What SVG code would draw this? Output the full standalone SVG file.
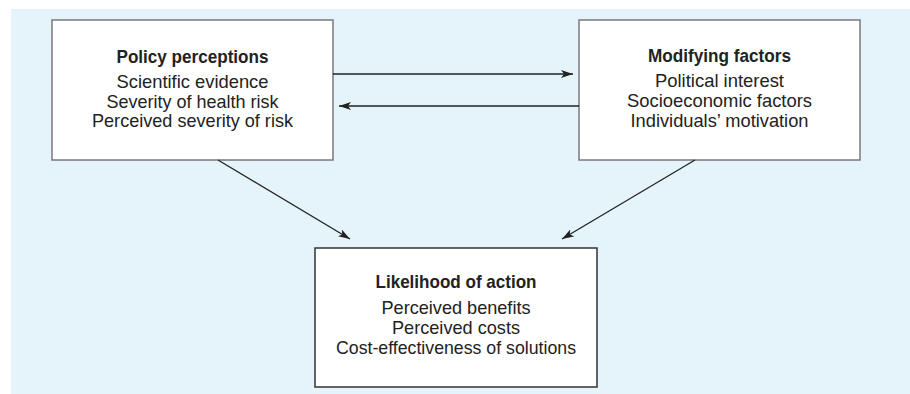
<svg xmlns="http://www.w3.org/2000/svg" width="910" height="394" viewBox="0 0 910 394">
<defs>
<marker id="ah" viewBox="0 0 12 8" refX="12" refY="4" markerWidth="12" markerHeight="8" markerUnits="userSpaceOnUse" orient="auto">
<path d="M0,0 L12,4 L0,8 L3,4 Z" fill="#222"/>
</marker>
<style>
.box{fill:#fff;stroke:#7a7a7a;stroke-width:1.5}
.dark{stroke:#333}
.t{font-family:"Liberation Sans Narrow","Arial Narrow","Liberation Sans",sans-serif;font-size:18.5px;fill:#222;text-anchor:middle}
.b{font-weight:bold}
.c{stroke:#222;stroke-width:1.3;fill:none;marker-end:url(#ah)}
</style>
</defs>
<rect x="11" y="9" width="899" height="385" fill="#e5f3fb"/>
<g id="policy">
<rect class="box" x="52" y="20" width="281" height="140"/>
<text class="t b" x="192.5" y="63" textLength="152" lengthAdjust="spacingAndGlyphs">Policy perceptions</text>
<text class="t" x="192.5" y="88" textLength="152" lengthAdjust="spacingAndGlyphs">Scientific evidence</text>
<text class="t" x="192.5" y="108" textLength="172" lengthAdjust="spacingAndGlyphs">Severity of health risk</text>
<text class="t" x="192.5" y="127" textLength="201" lengthAdjust="spacingAndGlyphs">Perceived severity of risk</text>
</g>
<g id="modifying">
<rect class="box" x="579" y="20" width="281" height="140"/>
<text class="t b" x="719.5" y="62" textLength="143" lengthAdjust="spacingAndGlyphs">Modifying factors</text>
<text class="t" x="719.5" y="87" textLength="129" lengthAdjust="spacingAndGlyphs">Political interest</text>
<text class="t" x="719.5" y="107" textLength="185" lengthAdjust="spacingAndGlyphs">Socioeconomic factors</text>
<text class="t" x="719.5" y="127" textLength="178" lengthAdjust="spacingAndGlyphs">Individuals’ motivation</text>
</g>
<g id="likelihood">
<rect class="box dark" x="315" y="248" width="282" height="139"/>
<text class="t b" x="456" y="288" textLength="161" lengthAdjust="spacingAndGlyphs">Likelihood of action</text>
<text class="t" x="456" y="314" textLength="149" lengthAdjust="spacingAndGlyphs">Perceived benefits</text>
<text class="t" x="456" y="334" textLength="128" lengthAdjust="spacingAndGlyphs">Perceived costs</text>
<text class="t" x="456" y="354" textLength="240" lengthAdjust="spacingAndGlyphs">Cost-effectiveness of solutions</text>
</g>
<g id="connectors">
<line class="c" x1="333" y1="74" x2="573" y2="74"/>
<line class="c" x1="579" y1="106" x2="339" y2="106"/>
<line class="c" x1="218" y1="160" x2="350" y2="239"/>
<line class="c" x1="695" y1="160" x2="562" y2="239"/>
</g>
</svg>
